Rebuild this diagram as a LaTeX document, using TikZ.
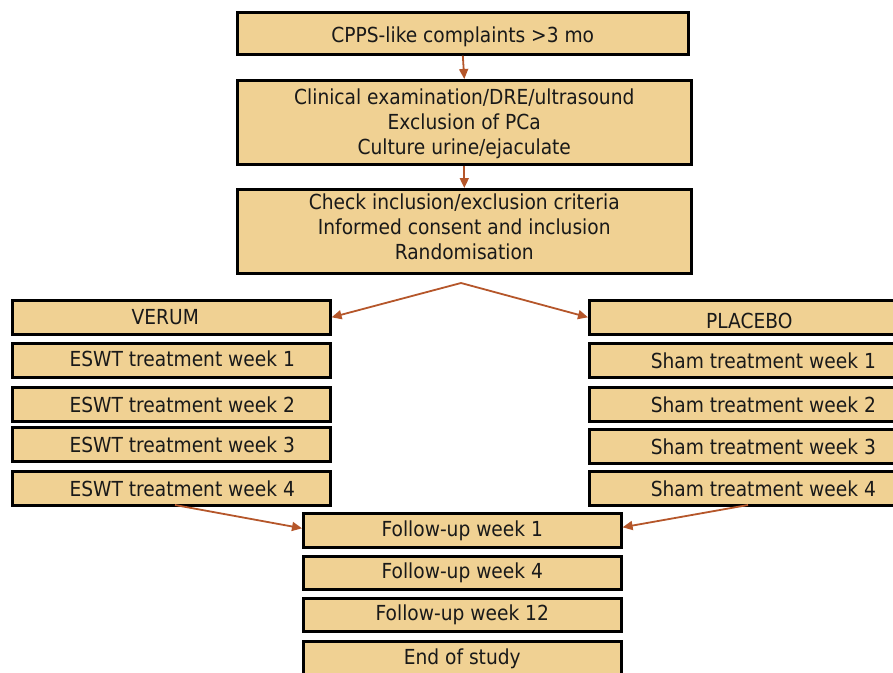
\documentclass[tikz,border=0pt]{standalone}
\usepackage{fontspec}
\setmainfont{DejaVu Sans Condensed}
\usetikzlibrary{arrows.meta}
\definecolor{boxfill}{HTML}{F0D193}
\definecolor{arrowc}{HTML}{B5562A}
\tikzset{
  box/.style={draw=black, line width=2.6pt, fill=boxfill, inner sep=0pt, anchor=north west},
  txt/.style={font=\fontsize{20.7}{25}\selectfont, text=black!90, align=center, inner sep=0pt},
  conn/.style={draw=arrowc, line width=1.8pt, -{Triangle[length=10pt,width=9pt]}}
}
\begin{document}
\begin{tikzpicture}[x=1pt,y=-1pt]
\useasboundingbox (0,0) rectangle (893,672);
\clip (0,0) rectangle (893,672);
% top boxes
\node[box, minimum width=451, minimum height=42] (b1) at (236,11) {};
\node[txt] at ([yshift=-3]b1.center) {CPPS-like complaints >3 mo};
\node[box, minimum width=454, minimum height=84] (b2) at (236,79) {};
\node[txt] at ([yshift=-1]b2.center) {Clinical examination/DRE/ultrasound\\Exclusion of PCa\\Culture urine/ejaculate};
\node[box, minimum width=454, minimum height=84] (b3) at (236,188) {};
\node[txt] at ([yshift=5]b3.center) {Check inclusion/exclusion criteria\\Informed consent and inclusion\\Randomisation};
% left column
\node[box, minimum width=318, minimum height=34] (v0) at (11,299) {};
\node[txt] at ([xshift=-6]v0.center) {VERUM};
\node[box, minimum width=318, minimum height=34] (v1) at (11,342) {};
\node[txt] at ([xshift=11,yshift=2]v1.center) {ESWT treatment week 1};
\node[box, minimum width=318, minimum height=34] (v2) at (11,386) {};
\node[txt] at ([xshift=11]v2.center) {ESWT treatment week 2};
\node[box, minimum width=318, minimum height=34] (v3) at (11,426) {};
\node[txt] at ([xshift=11]v3.center) {ESWT treatment week 3};
\node[box, minimum width=318, minimum height=34] (v4) at (11,470) {};
\node[txt] at ([xshift=11]v4.center) {ESWT treatment week 4};
% right column
\node[box, minimum width=320, minimum height=34] (p0) at (588,299) {};
\node[txt] at ([yshift=-4]p0.center) {PLACEBO};
\node[box, minimum width=320, minimum height=34] (p1) at (588,342) {};
\node[txt] at ([xshift=14]p1.center) {Sham treatment week 1};
\node[box, minimum width=320, minimum height=34] (p2) at (588,386) {};
\node[txt] at ([xshift=14]p2.center) {Sham treatment week 2};
\node[box, minimum width=320, minimum height=34] (p3) at (588,428) {};
\node[txt] at ([xshift=14]p3.center) {Sham treatment week 3};
\node[box, minimum width=320, minimum height=34] (p4) at (588,470) {};
\node[txt] at ([xshift=14]p4.center) {Sham treatment week 4};
% follow-up
\node[box, minimum width=318, minimum height=34] (f1) at (302,512) {};
\node[txt] at (f1.center) {Follow-up week 1};
\node[box, minimum width=318, minimum height=33] (f2) at (302,555) {};
\node[txt] at (f2.center) {Follow-up week 4};
\node[box, minimum width=318, minimum height=33] (f3) at (302,597) {};
\node[txt] at (f3.center) {Follow-up week 12};
\node[box, minimum width=318, minimum height=34] (f4) at (302,640) {};
\node[txt] at (f4.center) {End of study};
% connectors
\coordinate (split) at (461,283);
\coordinate (vstart) at (175,505);
\coordinate (pstart) at (748,505);
\draw[conn] (b1.south) -- (b2.north);
\draw[conn] (b2.south) -- (b3.north);
\draw[conn] (split) -- (v0.east);
\draw[conn] (split) -- (p0.west);
\draw[conn] (vstart) -- ([yshift=2]f1.west);
\draw[conn] (pstart) -- ([yshift=3]f1.east);
\end{tikzpicture}
\end{document}
